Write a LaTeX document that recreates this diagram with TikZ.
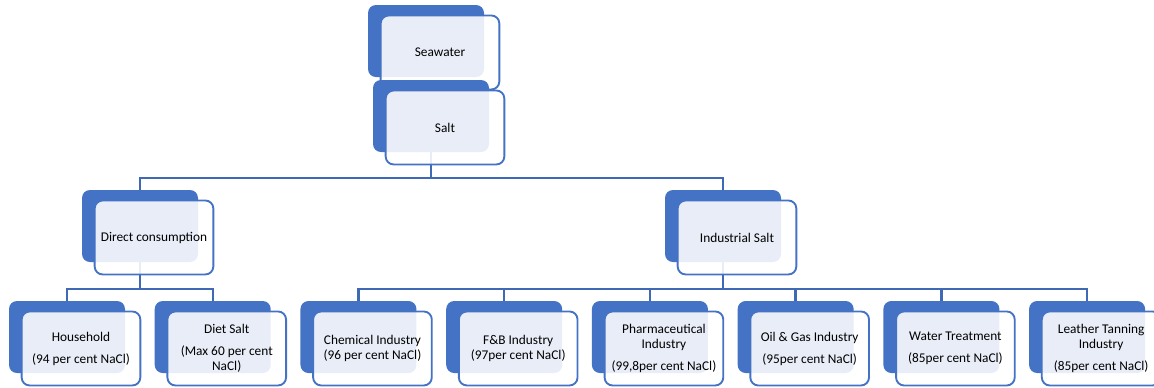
\documentclass[tikz,border=0pt]{standalone}
\usepackage{fontspec}
\setmainfont{Carlito}
\usepackage{tikz}
\usetikzlibrary{positioning}
\definecolor{smartblue}{HTML}{4472C4}
\definecolor{linkblue}{HTML}{3F68B5}
\pgfdeclarelayer{background}
\pgfsetlayers{background,main}
\tikzset{
	backbox/.style={fill=smartblue, rounded corners=6pt, inner sep=0pt,
		minimum width=87pt, minimum height=54pt},
	frontbox/.style={draw=smartblue, line width=1.4pt, fill=white,
		fill opacity=0.88, text opacity=1, rounded corners=6pt,
		minimum width=89pt, minimum height=55.5pt, inner sep=2pt,
		align=center, font=\fontsize{10}{11.5}\selectfont},
	link/.style={draw=linkblue, line width=1.8pt},
	upfront/.style={xshift=10.5pt, yshift=-8.6pt}
}

\begin{document}
\begin{tikzpicture}[x=0.75pt, y=-0.75pt]
	\useasboundingbox (0,0) rectangle (1154,387);
	
	%% -- Top: seawater gives salt
	\node[backbox] (sea) at (426,41) {};
	\node[frontbox] (sea-f) at ([upfront]sea.center) {Seawater};
	\node[backbox] (salt) at (431,116) {};
	\node[frontbox] (salt-f) at ([upfront]salt.center) {Salt};
	
	%% -- Middle level
	\node[backbox] (direct) at (140,226) {};
	\node[frontbox] (direct-f) at ([upfront]direct.center) {Direct consumption};
	\node[backbox] (indus) at (723,226) {};
	\node[frontbox] (indus-f) at ([upfront]indus.center) {Industrial Salt};
	
	%% -- Bottom row, one box after the other
	\node[backbox] (house) at (67,337) {};
	\node[frontbox] (house-f) at ([upfront]house.center)
	{Household\\[5pt](94 per cent NaCl)};
	
	\node[backbox, right=21.9pt of house] (diet) {};
	\node[frontbox] (diet-f) at ([upfront]diet.center)
	{Diet Salt\\[5pt](Max 60 per cent\\NaCl)};
	
	\node[backbox, right=21.9pt of diet] (chem) {};
	\node[frontbox] (chem-f) at ([upfront]chem.center)
	{Chemical Industry\\(96 per cent NaCl)};
	
	\node[backbox, right=21.9pt of chem] (fnb) {};
	\node[frontbox] (fnb-f) at ([upfront]fnb.center)
	{F\&B Industry\\(97per cent NaCl)};
	
	\node[backbox, right=21.9pt of fnb] (pharma) {};
	\node[frontbox] (pharma-f) at ([upfront]pharma.center)
	{Pharmaceutical\\Industry\\[5pt](99,8per cent NaCl)};
	
	\node[backbox, right=21.9pt of pharma] (oil) {};
	\node[frontbox] (oil-f) at ([upfront]oil.center)
	{Oil \& Gas Industry\\[5pt](95per cent NaCl)};
	
	\node[backbox, right=21.9pt of oil] (water) {};
	\node[frontbox] (water-f) at ([upfront]water.center)
	{Water Treatment\\[5pt](85per cent NaCl)};
	
	\node[backbox, right=21.9pt of water] (leather) {};
	\node[frontbox] (leather-f) at ([upfront]leather.center)
	{Leather Tanning\\Industry\\[5pt](85per cent NaCl)};
	
	%% -- Connectors, behind the light boxes
	\begin{pgfonlayer}{background}
		\draw[link] (salt.south) -- ++(0,26) -| (direct.north);
		\draw[link] (salt.south) -- ++(0,26) -| (indus.north);
		\draw[link] (direct.south) -- ++(0,27) -| (house.north);
		\draw[link] (direct.south) -- ++(0,27) -| (diet.north);
		\draw[link] (indus.south) -- ++(0,27) -| (chem.north);
		\draw[link] (indus.south) -- ++(0,27) -| (fnb.north);
		\draw[link] (indus.south) -- ++(0,27) -| (pharma.north);
		\draw[link] (indus.south) -- ++(0,27) -| (oil.north);
		\draw[link] (indus.south) -- ++(0,27) -| (water.north);
		\draw[link] (indus.south) -- ++(0,27) -| (leather.north);
	\end{pgfonlayer}
	
\end{tikzpicture}
\end{document}
